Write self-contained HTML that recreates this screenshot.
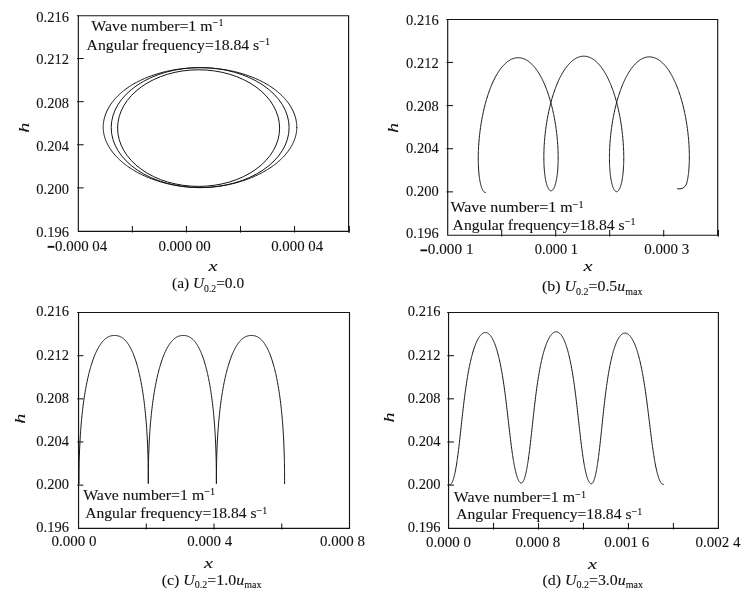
<!DOCTYPE html>
<html><head><meta charset="utf-8"><title>Particle trajectories</title>
<style>html,body{margin:0;padding:0;background:#fff;}svg{display:block;filter:grayscale(1);font-family:"Liberation Serif",serif;fill:#111;}text{stroke:#111;stroke-width:0.1px;}</style></head><body>
<svg width="747" height="598" viewBox="0 0 747 598">
<rect width="747" height="598" fill="#ffffff"/>
<path d="M78.35 231.8 V15.7 H348.6 V231.3 H77.85" fill="none" stroke="#151515" stroke-width="1.15" stroke-linejoin="miter"/>
<line x1="76.95" y1="15.7" x2="78.35" y2="15.7" stroke="#151515" stroke-width="1.0"/>
<line x1="132.4" y1="232.6" x2="132.4" y2="226" stroke="#151515" stroke-width="1.05"/>
<line x1="186.45" y1="232.6" x2="186.45" y2="226" stroke="#151515" stroke-width="1.05"/>
<line x1="240.5" y1="232.6" x2="240.5" y2="226" stroke="#151515" stroke-width="1.05"/>
<line x1="294.55" y1="232.6" x2="294.55" y2="226" stroke="#151515" stroke-width="1.05"/>
<line x1="77.15" y1="58.52" x2="83.65" y2="58.52" stroke="#151515" stroke-width="1.05"/>
<line x1="77.15" y1="101.64" x2="83.65" y2="101.64" stroke="#151515" stroke-width="1.05"/>
<line x1="77.15" y1="144.76" x2="83.65" y2="144.76" stroke="#151515" stroke-width="1.05"/>
<line x1="77.15" y1="187.88" x2="83.65" y2="187.88" stroke="#151515" stroke-width="1.05"/>
<line x1="349.15" y1="232.7" x2="349.15" y2="226" stroke="#151515" stroke-width="1.5"/>
<text x="68.9" y="21.73" font-size="15.6" text-anchor="end" textLength="32.6" lengthAdjust="spacingAndGlyphs">0.216</text>
<text x="68.9" y="64.33" font-size="15.6" text-anchor="end" textLength="32.6" lengthAdjust="spacingAndGlyphs">0.212</text>
<text x="68.9" y="108.03" font-size="15.6" text-anchor="end" textLength="32.6" lengthAdjust="spacingAndGlyphs">0.208</text>
<text x="68.9" y="151.33" font-size="15.6" text-anchor="end" textLength="32.6" lengthAdjust="spacingAndGlyphs">0.204</text>
<text x="68.9" y="193.83" font-size="15.6" text-anchor="end" textLength="32.6" lengthAdjust="spacingAndGlyphs">0.200</text>
<text x="68.9" y="236.93" font-size="15.6" text-anchor="end" textLength="32.6" lengthAdjust="spacingAndGlyphs">0.196</text>
<rect x="47.6" y="245.9" width="6.8" height="1.9" fill="#151515"/>
<text x="55" y="250.8" font-size="15.6" textLength="52.3" lengthAdjust="spacingAndGlyphs">0.000 04</text>
<text x="158.4" y="250.8" font-size="15.6" textLength="52.4" lengthAdjust="spacingAndGlyphs">0.000 00</text>
<text x="271.2" y="250.8" font-size="15.6" textLength="51.9" lengthAdjust="spacingAndGlyphs">0.000 04</text>
<text font-size="15.5" font-style="italic" text-anchor="middle" transform="translate(24.2 127.7) rotate(-90) scale(1.3 0.94)" y="5.2">h</text>
<text font-size="15.5" font-style="italic" text-anchor="middle" transform="translate(213 270.5) scale(1.32 1)">x</text>
<text x="172" y="288.4" font-size="15.6" textLength="72.1" lengthAdjust="spacingAndGlyphs">(a) <tspan font-style="italic">U</tspan><tspan font-size="9.8" dy="3.5">0.2</tspan><tspan dy="-3.5">=0.0</tspan></text>
<text x="91.3" y="30.5" font-size="15.6" textLength="132.2" lengthAdjust="spacingAndGlyphs">Wave number=1 m<tspan font-size="10" dy="-4.5" font-weight="bold">−</tspan><tspan font-size="10">1</tspan></text>
<text x="86.6" y="49.9" font-size="15.6" textLength="183.4" lengthAdjust="spacingAndGlyphs">Angular frequency=18.84 s<tspan font-size="10" dy="-4.5" font-weight="bold">−</tspan><tspan font-size="10">1</tspan></text>
<path d="M296.8 127.5 L296.78 128.41 L296.74 129.36 L296.66 130.33 L296.56 131.31 L296.42 132.29 L296.25 133.29 L296.05 134.29 L295.82 135.29 L295.57 136.29 L295.28 137.29 L294.96 138.3 L294.61 139.3 L294.23 140.31 L293.82 141.31 L293.38 142.31 L292.92 143.31 L292.42 144.31 L291.89 145.3 L291.34 146.29 L290.76 147.27 L290.15 148.25 L289.51 149.23 L288.84 150.2 L288.14 151.16 L287.42 152.12 L286.67 153.07 L285.89 154.01 L285.08 154.95 L284.25 155.88 L283.4 156.8 L282.51 157.72 L281.6 158.62 L280.67 159.52 L279.71 160.41 L278.72 161.28 L277.71 162.15 L276.68 163.01 L275.62 163.86 L274.54 164.69 L273.44 165.52 L272.31 166.33 L271.17 167.13 L270 167.92 L268.81 168.7 L267.59 169.47 L266.36 170.22 L265.11 170.96 L263.83 171.68 L262.54 172.4 L261.23 173.1 L259.9 173.78 L258.56 174.45 L257.19 175.11 L255.81 175.75 L254.41 176.38 L253 176.99 L251.57 177.58 L250.13 178.16 L248.67 178.73 L247.2 179.28 L245.71 179.81 L244.22 180.33 L242.71 180.83 L241.18 181.31 L239.65 181.78 L238.11 182.22 L236.56 182.66 L234.99 183.07 L233.42 183.47 L231.84 183.85 L230.26 184.21 L228.67 184.55 L227.07 184.88 L225.46 185.19 L223.86 185.48 L222.24 185.75 L220.63 186 L219.01 186.24 L217.39 186.46 L215.77 186.65 L214.16 186.83 L212.54 186.99 L210.93 187.14 L209.32 187.26 L207.72 187.36 L206.13 187.45 L204.55 187.51 L202.99 187.56 L201.46 187.59 L200 187.6 L198.54 187.59 L197.01 187.56 L195.45 187.51 L193.87 187.45 L192.28 187.36 L190.68 187.26 L189.07 187.14 L187.46 186.99 L185.84 186.83 L184.23 186.65 L182.61 186.46 L180.99 186.24 L179.37 186 L177.76 185.75 L176.14 185.48 L174.54 185.19 L172.93 184.88 L171.33 184.55 L169.74 184.21 L168.16 183.85 L166.58 183.47 L165.01 183.07 L163.44 182.66 L161.89 182.22 L160.35 181.78 L158.82 181.31 L157.29 180.83 L155.78 180.33 L154.29 179.81 L152.8 179.28 L151.33 178.73 L149.87 178.16 L148.43 177.58 L147 176.99 L145.59 176.38 L144.19 175.75 L142.81 175.11 L141.44 174.45 L140.1 173.78 L138.77 173.1 L137.46 172.4 L136.17 171.68 L134.89 170.96 L133.64 170.22 L132.41 169.47 L131.19 168.7 L130 167.92 L128.83 167.13 L127.69 166.33 L126.56 165.52 L125.46 164.69 L124.38 163.86 L123.32 163.01 L122.29 162.15 L121.28 161.28 L120.29 160.41 L119.33 159.52 L118.4 158.62 L117.49 157.72 L116.6 156.8 L115.75 155.88 L114.92 154.95 L114.11 154.01 L113.33 153.07 L112.58 152.12 L111.86 151.16 L111.16 150.2 L110.49 149.23 L109.85 148.25 L109.24 147.27 L108.66 146.29 L108.11 145.3 L107.58 144.31 L107.08 143.31 L106.62 142.31 L106.18 141.31 L105.77 140.31 L105.39 139.3 L105.04 138.3 L104.72 137.29 L104.43 136.29 L104.18 135.29 L103.95 134.29 L103.75 133.29 L103.58 132.29 L103.44 131.31 L103.34 130.33 L103.26 129.36 L103.22 128.41 L103.2 127.5 L103.21 126.46 L103.26 125.41 L103.33 124.37 L103.44 123.33 L103.57 122.29 L103.73 121.25 L103.92 120.21 L104.14 119.18 L104.39 118.15 L104.67 117.12 L104.98 116.09 L105.32 115.07 L105.68 114.05 L106.08 113.03 L106.5 112.02 L106.95 111.02 L107.43 110.02 L107.94 109.02 L108.47 108.03 L109.04 107.05 L109.63 106.07 L110.25 105.1 L110.9 104.13 L111.57 103.18 L112.27 102.23 L113 101.29 L113.75 100.35 L114.53 99.43 L115.34 98.51 L116.17 97.6 L117.03 96.7 L117.91 95.81 L118.82 94.93 L119.75 94.06 L120.71 93.2 L121.69 92.35 L122.69 91.51 L123.72 90.68 L124.77 89.87 L125.85 89.06 L126.94 88.27 L128.06 87.49 L129.2 86.72 L130.37 85.96 L131.55 85.22 L132.76 84.48 L133.98 83.77 L135.23 83.06 L136.49 82.37 L137.78 81.69 L139.08 81.03 L140.4 80.38 L141.74 79.74 L143.1 79.12 L144.48 78.51 L145.87 77.92 L147.28 77.35 L148.7 76.79 L150.14 76.24 L151.6 75.71 L153.07 75.2 L154.56 74.7 L156.05 74.22 L157.57 73.75 L159.09 73.3 L160.63 72.87 L162.18 72.45 L163.74 72.05 L165.31 71.67 L166.89 71.31 L168.49 70.96 L170.09 70.63 L171.7 70.31 L173.32 70.02 L174.95 69.74 L176.58 69.48 L178.22 69.23 L179.87 69.01 L181.53 68.8 L183.19 68.61 L184.86 68.44 L186.53 68.28 L188.2 68.15 L189.88 68.03 L191.56 67.93 L193.25 67.85 L194.93 67.78 L196.62 67.74 L198.31 67.71 L200 67.7 L201.69 67.71 L203.38 67.74 L205.07 67.78 L206.75 67.85 L208.44 67.93 L210.12 68.03 L211.8 68.15 L213.47 68.28 L215.14 68.44 L216.81 68.61 L218.47 68.8 L220.13 69.01 L221.78 69.23 L223.42 69.48 L225.05 69.74 L226.68 70.02 L228.3 70.31 L229.91 70.63 L231.51 70.96 L233.11 71.31 L234.69 71.67 L236.26 72.05 L237.82 72.45 L239.37 72.87 L240.91 73.3 L242.43 73.75 L243.95 74.22 L245.44 74.7 L246.93 75.2 L248.4 75.71 L249.86 76.24 L251.3 76.79 L252.72 77.35 L254.13 77.92 L255.52 78.51 L256.9 79.12 L258.26 79.74 L259.6 80.38 L260.92 81.03 L262.22 81.69 L263.51 82.37 L264.77 83.06 L266.02 83.77 L267.24 84.48 L268.45 85.22 L269.63 85.96 L270.8 86.72 L271.94 87.49 L273.06 88.27 L274.15 89.06 L275.23 89.87 L276.28 90.68 L277.31 91.51 L278.31 92.35 L279.29 93.2 L280.25 94.06 L281.18 94.93 L282.09 95.81 L282.97 96.7 L283.83 97.6 L284.66 98.51 L285.47 99.43 L286.25 100.35 L287 101.29 L287.73 102.23 L288.43 103.18 L289.1 104.13 L289.75 105.1 L290.37 106.07 L290.96 107.05 L291.53 108.03 L292.06 109.02 L292.57 110.02 L293.05 111.02 L293.5 112.02 L293.92 113.03 L294.32 114.05 L294.68 115.07 L295.02 116.09 L295.33 117.12 L295.61 118.15 L295.86 119.18 L296.08 120.21 L296.27 121.25 L296.43 122.29 L296.56 123.33 L296.67 124.37 L296.74 125.41 L296.79 126.46 L296.8 127.5" fill="none" stroke="#141414" stroke-width="1.0" stroke-linejoin="round" stroke-linecap="round"/>
<ellipse cx="200.15" cy="127.6" rx="88.95" ry="60" fill="none" stroke="#141414" stroke-width="1.0"/>
<ellipse cx="198.6" cy="128.1" rx="81" ry="58.3" fill="none" stroke="#141414" stroke-width="1.0"/>
<path d="M447.7 235.7 V19.5 H717.7 V235.2 H447.2" fill="none" stroke="#151515" stroke-width="1.15" stroke-linejoin="miter"/>
<line x1="446.3" y1="19.5" x2="447.7" y2="19.5" stroke="#151515" stroke-width="1.0"/>
<line x1="501.7" y1="236.5" x2="501.7" y2="229.9" stroke="#151515" stroke-width="1.05"/>
<line x1="555.7" y1="236.5" x2="555.7" y2="229.9" stroke="#151515" stroke-width="1.05"/>
<line x1="609.7" y1="236.5" x2="609.7" y2="229.9" stroke="#151515" stroke-width="1.05"/>
<line x1="663.7" y1="236.5" x2="663.7" y2="229.9" stroke="#151515" stroke-width="1.05"/>
<line x1="446.5" y1="62.44" x2="453" y2="62.44" stroke="#151515" stroke-width="1.05"/>
<line x1="446.5" y1="105.58" x2="453" y2="105.58" stroke="#151515" stroke-width="1.05"/>
<line x1="446.5" y1="148.72" x2="453" y2="148.72" stroke="#151515" stroke-width="1.05"/>
<line x1="446.5" y1="191.86" x2="453" y2="191.86" stroke="#151515" stroke-width="1.05"/>
<line x1="718.25" y1="236.6" x2="718.25" y2="229.9" stroke="#151515" stroke-width="1.5"/>
<text x="438.7" y="25.23" font-size="15.6" text-anchor="end" textLength="32.6" lengthAdjust="spacingAndGlyphs">0.216</text>
<text x="438.7" y="68.03" font-size="15.6" text-anchor="end" textLength="32.6" lengthAdjust="spacingAndGlyphs">0.212</text>
<text x="438.7" y="110.73" font-size="15.6" text-anchor="end" textLength="32.6" lengthAdjust="spacingAndGlyphs">0.208</text>
<text x="438.7" y="153.23" font-size="15.6" text-anchor="end" textLength="32.6" lengthAdjust="spacingAndGlyphs">0.204</text>
<text x="438.7" y="195.63" font-size="15.6" text-anchor="end" textLength="32.6" lengthAdjust="spacingAndGlyphs">0.200</text>
<text x="438.7" y="237.93" font-size="15.6" text-anchor="end" textLength="32.6" lengthAdjust="spacingAndGlyphs">0.196</text>
<rect x="420.4" y="249.4" width="6.8" height="1.9" fill="#151515"/>
<text x="427.8" y="254.3" font-size="15.6" textLength="45.7" lengthAdjust="spacingAndGlyphs">0.000 1</text>
<text x="534.7" y="254.3" font-size="15.6" textLength="43.3" lengthAdjust="spacingAndGlyphs">0.000 1</text>
<text x="644.2" y="254.3" font-size="15.6" textLength="45" lengthAdjust="spacingAndGlyphs">0.000 3</text>
<text font-size="15.5" font-style="italic" text-anchor="middle" transform="translate(393.2 127.9) rotate(-90) scale(1.3 0.94)" y="5.2">h</text>
<text font-size="15.5" font-style="italic" text-anchor="middle" transform="translate(588 270.7) scale(1.32 1)">x</text>
<text x="542" y="291" font-size="15.6" textLength="100.5" lengthAdjust="spacingAndGlyphs">(b) <tspan font-style="italic">U</tspan><tspan font-size="9.8" dy="3.5">0.2</tspan><tspan dy="-3.5">=0.5</tspan><tspan font-style="italic">u</tspan><tspan font-size="9.8" dy="3.5">max</tspan></text>
<text x="450.4" y="212.2" font-size="15.6" textLength="133.2" lengthAdjust="spacingAndGlyphs">Wave number=1 m<tspan font-size="10" dy="-4.5" font-weight="bold">−</tspan><tspan font-size="10">1</tspan></text>
<text x="452.6" y="229.7" font-size="15.6" textLength="182.8" lengthAdjust="spacingAndGlyphs">Angular frequency=18.84 s<tspan font-size="10" dy="-4.5" font-weight="bold">−</tspan><tspan font-size="10">1</tspan></text>
<path d="M485.4 192.5 L485.19 192.48 L484.97 192.43 L484.76 192.36 L484.55 192.25 L484.34 192.12 L484.13 191.96 L483.92 191.78 L483.71 191.56 L483.51 191.32 L483.3 191.05 L483.1 190.75 L482.9 190.43 L482.7 190.08 L482.5 189.7 L482.31 189.29 L482.11 188.86 L481.93 188.4 L481.74 187.92 L481.56 187.4 L481.38 186.87 L481.2 186.31 L481.03 185.72 L480.86 185.1 L480.69 184.47 L480.53 183.8 L480.38 183.12 L480.22 182.41 L480.08 181.67 L479.93 180.91 L479.8 180.13 L479.66 179.33 L479.53 178.5 L479.41 177.65 L479.29 176.78 L479.18 175.89 L479.08 174.97 L478.98 174.04 L478.88 173.08 L478.79 172.11 L478.71 171.12 L478.64 170.1 L478.57 169.07 L478.5 168.02 L478.45 166.95 L478.4 165.87 L478.36 164.77 L478.32 163.65 L478.29 162.51 L478.27 161.36 L478.26 160.2 L478.25 159.02 L478.25 157.82 L478.26 156.62 L478.28 155.4 L478.3 154.16 L478.33 152.92 L478.37 151.66 L478.42 150.4 L478.48 149.12 L478.54 147.83 L478.61 146.53 L478.69 145.23 L478.78 143.91 L478.88 142.59 L478.98 141.26 L479.1 139.93 L479.22 138.58 L479.35 137.24 L479.49 135.88 L479.63 134.53 L479.79 133.16 L479.96 131.8 L480.13 130.43 L480.31 129.06 L480.5 127.69 L480.7 126.32 L480.91 124.95 L481.13 123.57 L481.35 122.2 L481.59 120.83 L481.83 119.46 L482.08 118.1 L482.34 116.73 L482.61 115.37 L482.89 114.02 L483.17 112.67 L483.47 111.32 L483.77 109.98 L484.08 108.65 L484.4 107.32 L484.73 106 L485.07 104.69 L485.41 103.38 L485.76 102.09 L486.12 100.8 L486.49 99.53 L486.87 98.27 L487.26 97.01 L487.65 95.77 L488.05 94.54 L488.46 93.33 L488.88 92.12 L489.3 90.93 L489.73 89.76 L490.17 88.6 L490.62 87.45 L491.07 86.32 L491.53 85.21 L492 84.11 L492.47 83.03 L492.95 81.97 L493.44 80.92 L493.94 79.89 L494.44 78.89 L494.95 77.9 L495.46 76.93 L495.98 75.98 L496.5 75.05 L497.04 74.14 L497.57 73.26 L498.11 72.39 L498.66 71.55 L499.22 70.73 L499.77 69.93 L500.34 69.15 L500.91 68.4 L501.48 67.67 L502.06 66.96 L502.64 66.28 L503.23 65.62 L503.82 64.99 L504.41 64.38 L505.01 63.8 L505.61 63.24 L506.21 62.71 L506.82 62.21 L507.43 61.73 L508.05 61.27 L508.67 60.85 L509.29 60.45 L509.91 60.07 L510.53 59.72 L511.16 59.4 L511.79 59.11 L512.42 58.85 L513.05 58.61 L513.68 58.4 L514.32 58.22 L514.96 58.06 L515.59 57.93 L516.23 57.83 L516.87 57.76 L517.51 57.72 L518.14 57.7 L518.78 57.71 L519.42 57.75 L520.06 57.82 L520.7 57.91 L521.33 58.04 L521.97 58.19 L522.6 58.36 L523.24 58.57 L523.87 58.8 L524.5 59.06 L525.13 59.35 L525.76 59.66 L526.38 60.01 L527.01 60.37 L527.63 60.77 L528.24 61.19 L528.86 61.64 L529.47 62.11 L530.08 62.61 L530.69 63.14 L531.29 63.69 L531.89 64.27 L532.48 64.87 L533.07 65.5 L533.66 66.15 L534.24 66.82 L534.82 67.52 L535.39 68.24 L535.96 68.99 L536.53 69.76 L537.09 70.55 L537.64 71.37 L538.19 72.2 L538.73 73.06 L539.27 73.94 L539.8 74.84 L540.33 75.76 L540.85 76.7 L541.37 77.66 L541.87 78.64 L542.38 79.64 L542.87 80.66 L543.36 81.7 L543.84 82.75 L544.32 83.82 L544.79 84.91 L545.25 86.02 L545.7 87.14 L546.15 88.27 L546.59 89.42 L547.02 90.59 L547.45 91.77 L547.87 92.96 L548.28 94.17 L548.68 95.38 L549.07 96.61 L549.46 97.86 L549.84 99.11 L550.21 100.37 L550.57 101.65 L550.93 102.93 L551.27 104.22 L551.61 105.52 L551.94 106.83 L552.26 108.14 L552.58 109.46 L552.88 110.79 L553.18 112.13 L553.46 113.46 L553.74 114.81 L554.01 116.15 L554.27 117.5 L554.53 118.86 L554.77 120.21 L555.01 121.57 L555.23 122.93 L555.45 124.28 L555.66 125.64 L555.86 127 L556.06 128.36 L556.24 129.71 L556.41 131.06 L556.58 132.41 L556.74 133.76 L556.89 135.1 L557.03 136.44 L557.16 137.77 L557.28 139.1 L557.4 140.42 L557.51 141.73 L557.6 143.04 L557.69 144.34 L557.78 145.63 L557.85 146.91 L557.91 148.18 L557.97 149.45 L558.02 150.7 L558.06 151.94 L558.09 153.17 L558.12 154.38 L558.14 155.59 L558.15 156.78 L558.15 157.96 L558.14 159.12 L558.13 160.27 L558.11 161.4 L558.09 162.52 L558.05 163.63 L558.01 164.71 L557.96 165.78 L557.91 166.83 L557.85 167.87 L557.78 168.88 L557.7 169.88 L557.62 170.86 L557.53 171.82 L557.44 172.76 L557.34 173.68 L557.24 174.58 L557.13 175.46 L557.01 176.31 L556.89 177.15 L556.76 177.96 L556.63 178.75 L556.49 179.52 L556.35 180.26 L556.2 180.98 L556.05 181.68 L555.89 182.35 L555.73 183 L555.57 183.63 L555.4 184.23 L555.23 184.81 L555.05 185.36 L554.88 185.88 L554.69 186.38 L554.51 186.85 L554.32 187.3 L554.13 187.72 L553.93 188.12 L553.74 188.48 L553.54 188.83 L553.34 189.14 L553.13 189.43 L552.93 189.69 L552.72 189.92 L552.52 190.13 L552.31 190.31 L552.1 190.46 L551.89 190.58 L551.67 190.68 L551.46 190.75 L551.25 190.79 L551.04 190.8 L550.82 190.79 L550.61 190.76 L550.4 190.7 L550.19 190.61 L549.98 190.49 L549.77 190.34 L549.56 190.17 L549.35 189.97 L549.14 189.74 L548.94 189.48 L548.73 189.2 L548.53 188.89 L548.33 188.55 L548.13 188.18 L547.94 187.79 L547.75 187.37 L547.56 186.93 L547.37 186.45 L547.19 185.96 L547.01 185.43 L546.83 184.88 L546.66 184.31 L546.49 183.71 L546.32 183.08 L546.16 182.43 L546 181.75 L545.85 181.06 L545.7 180.33 L545.56 179.59 L545.42 178.82 L545.29 178.02 L545.16 177.21 L545.03 176.37 L544.91 175.51 L544.8 174.63 L544.69 173.72 L544.59 172.8 L544.5 171.85 L544.41 170.89 L544.33 169.9 L544.25 168.9 L544.18 167.88 L544.11 166.84 L544.06 165.78 L544.01 164.7 L543.96 163.61 L543.93 162.5 L543.9 161.37 L543.87 160.23 L543.86 159.07 L543.85 157.9 L543.85 156.71 L543.86 155.51 L543.87 154.3 L543.9 153.07 L543.93 151.83 L543.96 150.58 L544.01 149.32 L544.06 148.04 L544.13 146.76 L544.2 145.47 L544.28 144.17 L544.36 142.86 L544.46 141.54 L544.56 140.21 L544.67 138.88 L544.8 137.54 L544.92 136.19 L545.06 134.84 L545.21 133.49 L545.36 132.13 L545.53 130.76 L545.7 129.4 L545.88 128.03 L546.07 126.66 L546.27 125.28 L546.47 123.91 L546.69 122.54 L546.91 121.17 L547.14 119.8 L547.39 118.42 L547.64 117.06 L547.89 115.69 L548.16 114.33 L548.44 112.97 L548.72 111.62 L549.01 110.27 L549.32 108.93 L549.63 107.59 L549.94 106.26 L550.27 104.93 L550.61 103.62 L550.95 102.31 L551.3 101.01 L551.66 99.72 L552.03 98.44 L552.41 97.17 L552.79 95.91 L553.18 94.67 L553.58 93.43 L553.99 92.21 L554.4 91 L554.83 89.81 L555.26 88.62 L555.69 87.46 L556.14 86.3 L556.59 85.17 L557.05 84.05 L557.52 82.94 L557.99 81.85 L558.47 80.78 L558.96 79.73 L559.45 78.7 L559.95 77.68 L560.46 76.69 L560.97 75.71 L561.49 74.75 L562.01 73.82 L562.54 72.9 L563.08 72 L563.62 71.13 L564.17 70.28 L564.72 69.45 L565.28 68.64 L565.84 67.86 L566.41 67.1 L566.98 66.36 L567.56 65.65 L568.14 64.96 L568.72 64.29 L569.31 63.65 L569.91 63.03 L570.5 62.44 L571.1 61.88 L571.71 61.34 L572.32 60.82 L572.93 60.34 L573.54 59.88 L574.16 59.44 L574.78 59.03 L575.4 58.65 L576.02 58.3 L576.65 57.97 L577.28 57.67 L577.91 57.4 L578.54 57.16 L579.17 56.94 L579.81 56.75 L580.44 56.59 L581.08 56.45 L581.72 56.35 L582.36 56.27 L582.99 56.22 L583.63 56.2 L584.27 56.21 L584.91 56.24 L585.55 56.31 L586.19 56.4 L586.82 56.51 L587.46 56.66 L588.09 56.84 L588.73 57.04 L589.36 57.27 L589.99 57.53 L590.62 57.81 L591.25 58.13 L591.87 58.47 L592.5 58.83 L593.12 59.23 L593.74 59.65 L594.35 60.1 L594.96 60.57 L595.57 61.07 L596.18 61.6 L596.78 62.15 L597.38 62.73 L597.98 63.33 L598.57 63.96 L599.16 64.61 L599.74 65.29 L600.32 65.99 L600.89 66.72 L601.46 67.47 L602.03 68.24 L602.59 69.04 L603.14 69.86 L603.69 70.7 L604.24 71.57 L604.78 72.45 L605.31 73.36 L605.84 74.29 L606.36 75.24 L606.88 76.21 L607.39 77.19 L607.89 78.2 L608.39 79.23 L608.88 80.28 L609.36 81.34 L609.84 82.42 L610.31 83.52 L610.77 84.64 L611.23 85.77 L611.67 86.92 L612.12 88.08 L612.55 89.26 L612.98 90.45 L613.4 91.66 L613.81 92.88 L614.21 94.11 L614.61 95.35 L614.99 96.61 L615.37 97.88 L615.75 99.16 L616.11 100.45 L616.47 101.75 L616.81 103.06 L617.15 104.37 L617.49 105.7 L617.81 107.03 L618.12 108.37 L618.43 109.72 L618.73 111.07 L619.01 112.43 L619.29 113.79 L619.57 115.16 L619.83 116.53 L620.08 117.9 L620.33 119.28 L620.57 120.66 L620.8 122.04 L621.02 123.42 L621.23 124.8 L621.43 126.18 L621.62 127.56 L621.81 128.93 L621.98 130.31 L622.15 131.68 L622.31 133.05 L622.46 134.42 L622.6 135.78 L622.74 137.14 L622.86 138.49 L622.98 139.83 L623.09 141.17 L623.19 142.5 L623.28 143.83 L623.36 145.14 L623.44 146.45 L623.5 147.75 L623.56 149.04 L623.61 150.31 L623.66 151.58 L623.69 152.83 L623.72 154.08 L623.74 155.31 L623.75 156.52 L623.75 157.73 L623.75 158.92 L623.74 160.09 L623.72 161.25 L623.69 162.4 L623.66 163.53 L623.62 164.64 L623.57 165.74 L623.52 166.81 L623.46 167.87 L623.39 168.92 L623.32 169.94 L623.24 170.94 L623.15 171.93 L623.06 172.89 L622.96 173.84 L622.86 174.76 L622.75 175.67 L622.63 176.55 L622.51 177.41 L622.38 178.24 L622.25 179.06 L622.12 179.85 L621.97 180.62 L621.83 181.36 L621.68 182.08 L621.52 182.78 L621.36 183.45 L621.2 184.1 L621.03 184.73 L620.86 185.32 L620.69 185.9 L620.51 186.44 L620.32 186.96 L620.14 187.46 L619.95 187.92 L619.76 188.37 L619.57 188.78 L619.37 189.17 L619.17 189.53 L618.97 189.86 L618.77 190.17 L618.57 190.45 L618.36 190.7 L618.15 190.92 L617.94 191.11 L617.73 191.28 L617.52 191.42 L617.31 191.53 L617.1 191.62 L616.89 191.67 L616.67 191.7 L616.46 191.69 L616.25 191.65 L616.04 191.59 L615.82 191.5 L615.61 191.37 L615.4 191.23 L615.19 191.05 L614.98 190.84 L614.78 190.61 L614.57 190.35 L614.37 190.07 L614.17 189.75 L613.97 189.41 L613.77 189.04 L613.57 188.65 L613.38 188.22 L613.19 187.77 L613 187.3 L612.82 186.8 L612.64 186.27 L612.46 185.72 L612.29 185.14 L612.12 184.54 L611.95 183.91 L611.79 183.25 L611.63 182.57 L611.48 181.87 L611.33 181.15 L611.18 180.4 L611.04 179.62 L610.91 178.83 L610.78 178.01 L610.65 177.17 L610.53 176.3 L610.42 175.42 L610.31 174.51 L610.21 173.59 L610.11 172.64 L610.02 171.67 L609.94 170.69 L609.86 169.68 L609.79 168.66 L609.72 167.61 L609.67 166.55 L609.61 165.47 L609.57 164.38 L609.53 163.26 L609.5 162.14 L609.48 160.99 L609.46 159.83 L609.45 158.66 L609.45 157.47 L609.46 156.27 L609.47 155.05 L609.49 153.82 L609.52 152.58 L609.56 151.33 L609.6 150.07 L609.65 148.79 L609.72 147.51 L609.78 146.21 L609.86 144.91 L609.95 143.6 L610.04 142.28 L610.14 140.95 L610.25 139.62 L610.37 138.28 L610.5 136.93 L610.64 135.58 L610.78 134.23 L610.94 132.87 L611.1 131.5 L611.27 130.14 L611.45 128.77 L611.63 127.4 L611.83 126.02 L612.04 124.65 L612.25 123.28 L612.47 121.91 L612.7 120.54 L612.94 119.17 L613.19 117.8 L613.45 116.43 L613.71 115.07 L613.99 113.71 L614.27 112.36 L614.56 111.01 L614.86 109.67 L615.17 108.33 L615.49 107 L615.81 105.68 L616.15 104.36 L616.49 103.06 L616.84 101.76 L617.2 100.47 L617.56 99.19 L617.94 97.92 L618.32 96.67 L618.71 95.42 L619.11 94.19 L619.52 92.97 L619.93 91.76 L620.35 90.56 L620.78 89.38 L621.22 88.22 L621.66 87.06 L622.11 85.93 L622.57 84.81 L623.03 83.7 L623.51 82.62 L623.99 81.55 L624.47 80.5 L624.96 79.46 L625.46 78.45 L625.97 77.45 L626.48 76.48 L627 75.52 L627.52 74.58 L628.05 73.67 L628.58 72.77 L629.12 71.9 L629.67 71.05 L630.22 70.22 L630.78 69.41 L631.34 68.63 L631.91 67.86 L632.48 67.13 L633.05 66.41 L633.64 65.72 L634.22 65.06 L634.81 64.41 L635.4 63.8 L636 63.21 L636.6 62.64 L637.2 62.1 L637.81 61.58 L638.42 61.09 L639.03 60.63 L639.65 60.19 L640.27 59.78 L640.89 59.4 L641.51 59.04 L642.14 58.71 L642.77 58.41 L643.4 58.14 L644.03 57.89 L644.66 57.67 L645.3 57.48 L645.93 57.31 L646.57 57.17 L647.21 57.06 L647.84 56.98 L648.48 56.93 L649.12 56.9 L649.76 56.9 L650.4 56.93 L651.04 56.99 L651.67 57.08 L652.31 57.19 L652.95 57.33 L653.58 57.5 L654.22 57.7 L654.85 57.92 L655.48 58.17 L656.11 58.45 L656.74 58.75 L657.36 59.09 L657.99 59.45 L658.61 59.83 L659.23 60.24 L659.84 60.68 L660.46 61.15 L661.07 61.64 L661.67 62.16 L662.28 62.7 L662.88 63.27 L663.47 63.86 L664.07 64.48 L664.65 65.12 L665.24 65.79 L665.82 66.48 L666.39 67.2 L666.96 67.94 L667.53 68.7 L668.09 69.48 L668.65 70.29 L669.2 71.12 L669.74 71.97 L670.28 72.84 L670.82 73.74 L671.35 74.65 L671.87 75.59 L672.39 76.54 L672.9 77.52 L673.4 78.51 L673.9 79.53 L674.39 80.56 L674.88 81.61 L675.35 82.67 L675.82 83.76 L676.29 84.86 L676.75 85.97 L677.2 87.1 L677.64 88.25 L678.07 89.41 L678.5 90.59 L678.92 91.78 L679.34 92.98 L679.74 94.2 L680.14 95.42 L680.53 96.66 L680.91 97.91 L681.28 99.17 L681.65 100.45 L682.01 101.73 L682.35 103.02 L682.7 104.32 L683.03 105.62 L683.35 106.94 L683.67 108.26 L683.98 109.58 L684.27 110.92 L684.56 112.26 L684.85 113.6 L685.12 114.95 L685.38 116.3 L685.64 117.65 L685.89 119.01 L686.13 120.37 L686.36 121.72 L686.58 123.08 L686.79 124.44 L686.99 125.8 L687.19 127.16 L687.38 128.52 L687.55 129.88 L687.72 131.23 L687.88 132.58 L688.04 133.92 L688.18 135.27 L688.32 136.6 L688.44 137.93 L688.56 139.26 L688.67 140.58 L688.77 141.89 L688.86 143.19 L688.95 144.49 L689.02 145.77 L689.09 147.05 L689.15 148.32 L689.2 149.57 L689.25 150.82 L689.28 152.06 L689.31 153.28 L689.33 154.49 L689.35 155.69 L689.35 156.87 L689.35 158.04 L689.34 159.2 L689.32 160.34 L689.3 161.47 L689.26 162.58 L689.23 163.67 L689.18 164.75 L689.13 165.81 L689.07 166.85 L689 167.88 L688.93 168.88 L688.85 169.87 L688.77 170.84 L688.67 171.79 L688.58 172.71 L688.47 173.62 L688.36 174.51 L688.25 175.37 L688.13 176.22 L688.01 177.04 L687.87 177.84 L687.74 178.62 L687.6 179.37 L687.45 180.1 L687.3 180.81 L687.15 181.49 L686.99 182.15 C685.99 186.75 682.59 189.75 677.6 188.8" fill="none" stroke="#141414" stroke-width="1.0" stroke-linejoin="round" stroke-linecap="round"/>
<path d="M78.55 528.8 V312.5 H349.5 V528.3 H78.05" fill="none" stroke="#151515" stroke-width="1.15" stroke-linejoin="miter"/>
<line x1="77.15" y1="312.5" x2="78.55" y2="312.5" stroke="#151515" stroke-width="1.0"/>
<line x1="146.29" y1="529.6" x2="146.29" y2="523.5" stroke="#151515" stroke-width="1.05"/>
<line x1="214.02" y1="529.6" x2="214.02" y2="523.5" stroke="#151515" stroke-width="1.05"/>
<line x1="281.76" y1="529.6" x2="281.76" y2="523.5" stroke="#151515" stroke-width="1.05"/>
<line x1="77.35" y1="355.66" x2="83.35" y2="355.66" stroke="#151515" stroke-width="1.05"/>
<line x1="77.35" y1="398.82" x2="83.35" y2="398.82" stroke="#151515" stroke-width="1.05"/>
<line x1="77.35" y1="441.98" x2="83.35" y2="441.98" stroke="#151515" stroke-width="1.05"/>
<line x1="77.35" y1="485.14" x2="83.35" y2="485.14" stroke="#151515" stroke-width="1.05"/>
<text x="68.9" y="316.23" font-size="15.6" text-anchor="end" textLength="32.6" lengthAdjust="spacingAndGlyphs">0.216</text>
<text x="68.9" y="359.83" font-size="15.6" text-anchor="end" textLength="32.6" lengthAdjust="spacingAndGlyphs">0.212</text>
<text x="68.9" y="403.03" font-size="15.6" text-anchor="end" textLength="32.6" lengthAdjust="spacingAndGlyphs">0.208</text>
<text x="68.9" y="446.33" font-size="15.6" text-anchor="end" textLength="32.6" lengthAdjust="spacingAndGlyphs">0.204</text>
<text x="68.9" y="489.03" font-size="15.6" text-anchor="end" textLength="32.6" lengthAdjust="spacingAndGlyphs">0.200</text>
<text x="68.9" y="532.43" font-size="15.6" text-anchor="end" textLength="32.6" lengthAdjust="spacingAndGlyphs">0.196</text>
<text x="51.6" y="546.2" font-size="15.6" textLength="44.9" lengthAdjust="spacingAndGlyphs">0.000 0</text>
<text x="187.3" y="546.2" font-size="15.6" textLength="44.8" lengthAdjust="spacingAndGlyphs">0.000 4</text>
<text x="320.1" y="546.2" font-size="15.6" textLength="44.8" lengthAdjust="spacingAndGlyphs">0.000 8</text>
<text font-size="15.5" font-style="italic" text-anchor="middle" transform="translate(20.6 418.7) rotate(-90) scale(1.3 0.94)" y="5.2">h</text>
<text font-size="15.5" font-style="italic" text-anchor="middle" transform="translate(208.6 567.5) scale(1.32 1)">x</text>
<text x="161.7" y="584.6" font-size="15.6" textLength="99.7" lengthAdjust="spacingAndGlyphs">(c) <tspan font-style="italic">U</tspan><tspan font-size="9.8" dy="3.5">0.2</tspan><tspan dy="-3.5">=1.0</tspan><tspan font-style="italic">u</tspan><tspan font-size="9.8" dy="3.5">max</tspan></text>
<text x="83.2" y="499.9" font-size="15.6" textLength="131.9" lengthAdjust="spacingAndGlyphs">Wave number=1 m<tspan font-size="10" dy="-4.5" font-weight="bold">−</tspan><tspan font-size="10">1</tspan></text>
<text x="85.2" y="518.4" font-size="15.6" textLength="182" lengthAdjust="spacingAndGlyphs">Angular frequency=18.84 s<tspan font-size="10" dy="-4.5" font-weight="bold">−</tspan><tspan font-size="10">1</tspan></text>
<path d="M79 483.6 L79 480.46 L79.01 477.79 L79.02 475.27 L79.04 472.84 L79.07 470.49 L79.1 468.18 L79.14 465.92 L79.18 463.7 L79.22 461.52 L79.28 459.36 L79.34 457.23 L79.4 455.13 L79.47 453.05 L79.54 450.99 L79.62 448.95 L79.71 446.94 L79.8 444.94 L79.9 442.96 L80 441 L80.11 439.06 L80.22 437.13 L80.34 435.22 L80.46 433.33 L80.59 431.46 L80.72 429.6 L80.86 427.75 L81.01 425.93 L81.16 424.12 L81.31 422.32 L81.47 420.54 L81.64 418.78 L81.81 417.03 L81.99 415.3 L82.17 413.58 L82.35 411.88 L82.55 410.2 L82.74 408.53 L82.94 406.88 L83.15 405.24 L83.36 403.62 L83.58 402.02 L83.8 400.43 L84.03 398.86 L84.26 397.31 L84.49 395.77 L84.74 394.25 L84.98 392.74 L85.23 391.25 L85.49 389.78 L85.75 388.33 L86.01 386.89 L86.28 385.48 L86.56 384.08 L86.83 382.69 L87.12 381.33 L87.41 379.98 L87.7 378.65 L87.99 377.34 L88.3 376.04 L88.6 374.77 L88.91 373.51 L89.22 372.27 L89.54 371.05 L89.87 369.85 L90.19 368.67 L90.52 367.5 L90.86 366.36 L91.2 365.23 L91.54 364.13 L91.89 363.04 L92.24 361.98 L92.59 360.93 L92.95 359.9 L93.32 358.9 L93.68 357.91 L94.05 356.94 L94.43 355.99 L94.81 355.07 L95.19 354.16 L95.58 353.28 L95.97 352.41 L96.36 351.57 L96.76 350.74 L97.16 349.94 L97.56 349.16 L97.97 348.4 L98.38 347.66 L98.79 346.94 L99.21 346.24 L99.63 345.56 L100.06 344.91 L100.49 344.28 L100.92 343.67 L101.36 343.08 L101.8 342.51 L102.24 341.96 L102.69 341.44 L103.14 340.93 L103.59 340.45 L104.05 339.99 L104.51 339.56 L104.97 339.14 L105.44 338.75 L105.92 338.38 L106.39 338.03 L106.88 337.71 L107.36 337.4 L107.86 337.12 L108.35 336.86 L108.85 336.63 L109.36 336.41 L109.88 336.22 L110.4 336.05 L110.93 335.91 L111.47 335.78 L112.03 335.68 L112.6 335.6 L113.19 335.55 L113.82 335.51 L114.55 335.5 L115.28 335.51 L115.91 335.55 L116.5 335.6 L117.06 335.68 L117.61 335.78 L118.15 335.91 L118.67 336.05 L119.19 336.22 L119.7 336.41 L120.2 336.63 L120.69 336.86 L121.18 337.12 L121.66 337.4 L122.14 337.71 L122.61 338.03 L123.07 338.38 L123.53 338.75 L123.99 339.14 L124.44 339.56 L124.89 339.99 L125.33 340.45 L125.77 340.93 L126.21 341.44 L126.64 341.96 L127.07 342.51 L127.49 343.08 L127.91 343.67 L128.32 344.28 L128.73 344.91 L129.14 345.56 L129.54 346.24 L129.94 346.94 L130.34 347.66 L130.73 348.4 L131.12 349.16 L131.5 349.94 L131.88 350.74 L132.26 351.57 L132.63 352.41 L133 353.28 L133.36 354.16 L133.72 355.07 L134.08 355.99 L134.43 356.94 L134.78 357.91 L135.13 358.9 L135.47 359.9 L135.81 360.93 L136.14 361.98 L136.47 363.04 L136.79 364.13 L137.11 365.23 L137.43 366.36 L137.74 367.5 L138.05 368.67 L138.35 369.85 L138.65 371.05 L138.95 372.27 L139.24 373.51 L139.53 374.77 L139.81 376.04 L140.09 377.34 L140.36 378.65 L140.63 379.98 L140.9 381.33 L141.16 382.69 L141.42 384.08 L141.67 385.48 L141.92 386.89 L142.16 388.33 L142.4 389.78 L142.63 391.25 L142.86 392.74 L143.09 394.25 L143.31 395.77 L143.53 397.31 L143.74 398.86 L143.94 400.43 L144.15 402.02 L144.34 403.62 L144.54 405.24 L144.73 406.88 L144.91 408.53 L145.09 410.2 L145.26 411.88 L145.43 413.58 L145.6 415.3 L145.76 417.03 L145.91 418.78 L146.06 420.54 L146.21 422.32 L146.35 424.12 L146.49 425.93 L146.62 427.75 L146.74 429.6 L146.87 431.46 L146.98 433.33 L147.09 435.22 L147.2 437.13 L147.3 439.06 L147.4 441 L147.49 442.96 L147.58 444.94 L147.66 446.94 L147.74 448.95 L147.81 450.99 L147.88 453.05 L147.94 455.13 L148 457.23 L148.05 459.36 L148.1 461.52 L148.14 463.7 L148.18 465.92 L148.21 468.18 L148.24 470.49 L148.26 472.84 L148.28 475.27 L148.29 477.79 L148.3 480.46 L148.3 483.6 L148.3 483.6 L148.3 480.46 L148.31 477.79 L148.32 475.27 L148.34 472.84 L148.37 470.49 L148.4 468.18 L148.43 465.92 L148.47 463.7 L148.52 461.52 L148.57 459.36 L148.63 457.23 L148.69 455.13 L148.76 453.05 L148.83 450.99 L148.91 448.95 L149 446.94 L149.09 444.94 L149.18 442.96 L149.28 441 L149.39 439.06 L149.5 437.13 L149.61 435.22 L149.74 433.33 L149.86 431.46 L149.99 429.6 L150.13 427.75 L150.27 425.93 L150.42 424.12 L150.57 422.32 L150.73 420.54 L150.9 418.78 L151.06 417.03 L151.24 415.3 L151.41 413.58 L151.6 411.88 L151.79 410.2 L151.98 408.53 L152.18 406.88 L152.38 405.24 L152.59 403.62 L152.8 402.02 L153.02 400.43 L153.24 398.86 L153.47 397.31 L153.7 395.77 L153.94 394.25 L154.18 392.74 L154.43 391.25 L154.68 389.78 L154.94 388.33 L155.2 386.89 L155.46 385.48 L155.73 384.08 L156.01 382.69 L156.28 381.33 L156.57 379.98 L156.85 378.65 L157.15 377.34 L157.44 376.04 L157.74 374.77 L158.05 373.51 L158.36 372.27 L158.67 371.05 L158.99 369.85 L159.31 368.67 L159.63 367.5 L159.96 366.36 L160.3 365.23 L160.63 364.13 L160.97 363.04 L161.32 361.98 L161.67 360.93 L162.02 359.9 L162.38 358.9 L162.74 357.91 L163.1 356.94 L163.47 355.99 L163.84 355.07 L164.22 354.16 L164.6 353.28 L164.98 352.41 L165.37 351.57 L165.76 350.74 L166.15 349.94 L166.55 349.16 L166.95 348.4 L167.36 347.66 L167.76 346.94 L168.17 346.24 L168.59 345.56 L169.01 344.91 L169.43 344.28 L169.85 343.67 L170.28 343.08 L170.71 342.51 L171.15 341.96 L171.59 341.44 L172.03 340.93 L172.48 340.45 L172.93 339.99 L173.38 339.56 L173.84 339.14 L174.3 338.75 L174.77 338.38 L175.24 338.03 L175.71 337.71 L176.19 337.4 L176.67 337.12 L177.16 336.86 L177.65 336.63 L178.15 336.41 L178.66 336.22 L179.17 336.05 L179.7 335.91 L180.23 335.78 L180.77 335.68 L181.33 335.6 L181.91 335.55 L182.53 335.51 L183.25 335.5 L183.97 335.51 L184.58 335.55 L185.16 335.6 L185.72 335.68 L186.26 335.78 L186.78 335.91 L187.3 336.05 L187.81 336.22 L188.31 336.41 L188.8 336.63 L189.28 336.86 L189.76 337.12 L190.24 337.4 L190.7 337.71 L191.17 338.03 L191.62 338.38 L192.08 338.75 L192.53 339.14 L192.97 339.56 L193.41 339.99 L193.84 340.45 L194.28 340.93 L194.7 341.44 L195.13 341.96 L195.55 342.51 L195.96 343.08 L196.37 343.67 L196.78 344.28 L197.18 344.91 L197.58 345.56 L197.98 346.24 L198.37 346.94 L198.76 347.66 L199.15 348.4 L199.53 349.16 L199.9 349.94 L200.28 350.74 L200.65 351.57 L201.01 352.41 L201.38 353.28 L201.73 354.16 L202.09 355.07 L202.44 355.99 L202.78 356.94 L203.13 357.91 L203.47 358.9 L203.8 359.9 L204.13 360.93 L204.46 361.98 L204.78 363.04 L205.1 364.13 L205.41 365.23 L205.73 366.36 L206.03 367.5 L206.33 368.67 L206.63 369.85 L206.93 371.05 L207.22 372.27 L207.5 373.51 L207.79 374.77 L208.06 376.04 L208.34 377.34 L208.61 378.65 L208.87 379.98 L209.13 381.33 L209.39 382.69 L209.64 384.08 L209.89 385.48 L210.13 386.89 L210.37 388.33 L210.61 389.78 L210.84 391.25 L211.06 392.74 L211.28 394.25 L211.5 395.77 L211.71 397.31 L211.92 398.86 L212.12 400.43 L212.32 402.02 L212.52 403.62 L212.71 405.24 L212.89 406.88 L213.07 408.53 L213.25 410.2 L213.42 411.88 L213.58 413.58 L213.75 415.3 L213.9 417.03 L214.06 418.78 L214.2 420.54 L214.35 422.32 L214.49 424.12 L214.62 425.93 L214.75 427.75 L214.87 429.6 L214.99 431.46 L215.11 433.33 L215.22 435.22 L215.32 437.13 L215.42 439.06 L215.52 441 L215.61 442.96 L215.69 444.94 L215.77 446.94 L215.85 448.95 L215.92 450.99 L215.99 453.05 L216.05 455.13 L216.1 457.23 L216.15 459.36 L216.2 461.52 L216.24 463.7 L216.28 465.92 L216.31 468.18 L216.34 470.49 L216.36 472.84 L216.38 475.27 L216.39 477.79 L216.4 480.46 L216.4 483.6 L216.4 483.6 L216.4 480.46 L216.41 477.79 L216.42 475.27 L216.44 472.84 L216.47 470.49 L216.5 468.18 L216.53 465.92 L216.57 463.7 L216.62 461.52 L216.67 459.36 L216.73 457.23 L216.79 455.13 L216.86 453.05 L216.93 450.99 L217.01 448.95 L217.1 446.94 L217.19 444.94 L217.28 442.96 L217.38 441 L217.49 439.06 L217.6 437.13 L217.72 435.22 L217.84 433.33 L217.96 431.46 L218.1 429.6 L218.23 427.75 L218.38 425.93 L218.52 424.12 L218.68 422.32 L218.84 420.54 L219 418.78 L219.17 417.03 L219.34 415.3 L219.52 413.58 L219.7 411.88 L219.89 410.2 L220.09 408.53 L220.28 406.88 L220.49 405.24 L220.7 403.62 L220.91 402.02 L221.13 400.43 L221.35 398.86 L221.58 397.31 L221.81 395.77 L222.05 394.25 L222.29 392.74 L222.54 391.25 L222.79 389.78 L223.05 388.33 L223.31 386.89 L223.57 385.48 L223.84 384.08 L224.12 382.69 L224.39 381.33 L224.68 379.98 L224.97 378.65 L225.26 377.34 L225.55 376.04 L225.86 374.77 L226.16 373.51 L226.47 372.27 L226.78 371.05 L227.1 369.85 L227.42 368.67 L227.75 367.5 L228.08 366.36 L228.41 365.23 L228.75 364.13 L229.09 363.04 L229.44 361.98 L229.79 360.93 L230.14 359.9 L230.5 358.9 L230.86 357.91 L231.23 356.94 L231.59 355.99 L231.97 355.07 L232.34 354.16 L232.72 353.28 L233.11 352.41 L233.49 351.57 L233.88 350.74 L234.28 349.94 L234.68 349.16 L235.08 348.4 L235.48 347.66 L235.89 346.94 L236.3 346.24 L236.72 345.56 L237.14 344.91 L237.56 344.28 L237.98 343.67 L238.41 343.08 L238.85 342.51 L239.28 341.96 L239.72 341.44 L240.17 340.93 L240.61 340.45 L241.06 339.99 L241.52 339.56 L241.98 339.14 L242.44 338.75 L242.9 338.38 L243.37 338.03 L243.85 337.71 L244.33 337.4 L244.81 337.12 L245.3 336.86 L245.79 336.63 L246.3 336.41 L246.8 336.22 L247.32 336.05 L247.84 335.91 L248.37 335.78 L248.92 335.68 L249.48 335.6 L250.06 335.55 L250.68 335.51 L251.4 335.5 L252.12 335.51 L252.74 335.55 L253.32 335.6 L253.87 335.68 L254.41 335.78 L254.94 335.91 L255.46 336.05 L255.96 336.22 L256.46 336.41 L256.96 336.63 L257.44 336.86 L257.92 337.12 L258.4 337.4 L258.86 337.71 L259.33 338.03 L259.79 338.38 L260.24 338.75 L260.69 339.14 L261.13 339.56 L261.57 339.99 L262.01 340.45 L262.44 340.93 L262.87 341.44 L263.29 341.96 L263.71 342.51 L264.13 343.08 L264.54 343.67 L264.95 344.28 L265.36 344.91 L265.76 345.56 L266.15 346.24 L266.55 346.94 L266.94 347.66 L267.32 348.4 L267.7 349.16 L268.08 349.94 L268.45 350.74 L268.82 351.57 L269.19 352.41 L269.55 353.28 L269.91 354.16 L270.27 355.07 L270.62 355.99 L270.96 356.94 L271.31 357.91 L271.65 358.9 L271.98 359.9 L272.31 360.93 L272.64 361.98 L272.96 363.04 L273.28 364.13 L273.6 365.23 L273.91 366.36 L274.22 367.5 L274.52 368.67 L274.82 369.85 L275.11 371.05 L275.4 372.27 L275.69 373.51 L275.97 374.77 L276.25 376.04 L276.53 377.34 L276.79 378.65 L277.06 379.98 L277.32 381.33 L277.58 382.69 L277.83 384.08 L278.08 385.48 L278.32 386.89 L278.56 388.33 L278.8 389.78 L279.03 391.25 L279.25 392.74 L279.48 394.25 L279.69 395.77 L279.9 397.31 L280.11 398.86 L280.32 400.43 L280.52 402.02 L280.71 403.62 L280.9 405.24 L281.09 406.88 L281.27 408.53 L281.44 410.2 L281.61 411.88 L281.78 413.58 L281.94 415.3 L282.1 417.03 L282.25 418.78 L282.4 420.54 L282.54 422.32 L282.68 424.12 L282.82 425.93 L282.95 427.75 L283.07 429.6 L283.19 431.46 L283.3 433.33 L283.41 435.22 L283.52 437.13 L283.62 439.06 L283.71 441 L283.8 442.96 L283.89 444.94 L283.97 446.94 L284.05 448.95 L284.12 450.99 L284.18 453.05 L284.25 455.13 L284.3 457.23 L284.35 459.36 L284.4 461.52 L284.44 463.7 L284.48 465.92 L284.51 468.18 L284.54 470.49 L284.56 472.84 L284.58 475.27 L284.59 477.79 L284.6 480.46 L284.6 483.6" fill="none" stroke="#141414" stroke-width="1.0" stroke-linejoin="round" stroke-linecap="round"/>
<path d="M448.55 528.8 V312.5 H718.4 V528.3 H448.05" fill="none" stroke="#151515" stroke-width="1.15" stroke-linejoin="miter"/>
<line x1="447.15" y1="312.5" x2="448.55" y2="312.5" stroke="#151515" stroke-width="1.0"/>
<line x1="493.52" y1="529.6" x2="493.52" y2="522.9" stroke="#151515" stroke-width="1.05"/>
<line x1="538.5" y1="529.6" x2="538.5" y2="522.9" stroke="#151515" stroke-width="1.05"/>
<line x1="583.48" y1="529.6" x2="583.48" y2="522.9" stroke="#151515" stroke-width="1.05"/>
<line x1="628.45" y1="529.6" x2="628.45" y2="522.9" stroke="#151515" stroke-width="1.05"/>
<line x1="673.42" y1="529.6" x2="673.42" y2="522.9" stroke="#151515" stroke-width="1.05"/>
<line x1="447.35" y1="355.66" x2="453.95" y2="355.66" stroke="#151515" stroke-width="1.05"/>
<line x1="447.35" y1="398.82" x2="453.95" y2="398.82" stroke="#151515" stroke-width="1.05"/>
<line x1="447.35" y1="441.98" x2="453.95" y2="441.98" stroke="#151515" stroke-width="1.05"/>
<line x1="447.35" y1="485.14" x2="453.95" y2="485.14" stroke="#151515" stroke-width="1.05"/>
<text x="440.4" y="316.23" font-size="15.6" text-anchor="end" textLength="32.6" lengthAdjust="spacingAndGlyphs">0.216</text>
<text x="440.4" y="359.83" font-size="15.6" text-anchor="end" textLength="32.6" lengthAdjust="spacingAndGlyphs">0.212</text>
<text x="440.4" y="403.03" font-size="15.6" text-anchor="end" textLength="32.6" lengthAdjust="spacingAndGlyphs">0.208</text>
<text x="440.4" y="446.33" font-size="15.6" text-anchor="end" textLength="32.6" lengthAdjust="spacingAndGlyphs">0.204</text>
<text x="440.4" y="489.03" font-size="15.6" text-anchor="end" textLength="32.6" lengthAdjust="spacingAndGlyphs">0.200</text>
<text x="440.4" y="532.43" font-size="15.6" text-anchor="end" textLength="32.6" lengthAdjust="spacingAndGlyphs">0.196</text>
<text x="426.1" y="546.7" font-size="15.6" textLength="44.9" lengthAdjust="spacingAndGlyphs">0.000 0</text>
<text x="515.4" y="546.7" font-size="15.6" textLength="44.9" lengthAdjust="spacingAndGlyphs">0.000 8</text>
<text x="604.3" y="546.7" font-size="15.6" textLength="45" lengthAdjust="spacingAndGlyphs">0.001 6</text>
<text x="695.5" y="546.7" font-size="15.6" textLength="45" lengthAdjust="spacingAndGlyphs">0.002 4</text>
<text font-size="15.5" font-style="italic" text-anchor="middle" transform="translate(389 417.5) rotate(-90) scale(1.3 0.94)" y="5.2">h</text>
<text font-size="15.5" font-style="italic" text-anchor="middle" transform="translate(592.5 568.5) scale(1.32 1)">x</text>
<text x="542.4" y="584.8" font-size="15.6" textLength="100.6" lengthAdjust="spacingAndGlyphs">(d) <tspan font-style="italic">U</tspan><tspan font-size="9.8" dy="3.5">0.2</tspan><tspan dy="-3.5">=3.0</tspan><tspan font-style="italic">u</tspan><tspan font-size="9.8" dy="3.5">max</tspan></text>
<text x="453.7" y="502.1" font-size="15.6" textLength="132.3" lengthAdjust="spacingAndGlyphs">Wave number=1 m<tspan font-size="10" dy="-4.5" font-weight="bold">−</tspan><tspan font-size="10">1</tspan></text>
<text x="456.2" y="519.2" font-size="15.6" textLength="186.1" lengthAdjust="spacingAndGlyphs">Angular Frequency=18.84 s<tspan font-size="10" dy="-4.5" font-weight="bold">−</tspan><tspan font-size="10">1</tspan></text>
<path d="M449.9 484.6 L450.09 484.58 L450.29 484.53 L450.48 484.45 L450.68 484.33 L450.87 484.18 L451.07 484 L451.26 483.78 L451.45 483.53 L451.65 483.25 L451.84 482.94 L452.03 482.59 L452.22 482.21 L452.41 481.8 L452.6 481.35 L452.79 480.88 L452.98 480.37 L453.17 479.83 L453.36 479.26 L453.54 478.66 L453.73 478.03 L453.91 477.36 L454.1 476.67 L454.28 475.95 L454.46 475.19 L454.65 474.41 L454.83 473.6 L455.01 472.76 L455.19 471.89 L455.36 471 L455.54 470.08 L455.72 469.13 L455.89 468.15 L456.07 467.15 L456.24 466.12 L456.41 465.07 L456.59 463.99 L456.76 462.89 L456.93 461.76 L457.1 460.61 L457.26 459.44 L457.43 458.24 L457.6 457.03 L457.77 455.79 L457.93 454.53 L458.1 453.25 L458.26 451.95 L458.43 450.64 L458.59 449.3 L458.76 447.95 L458.92 446.58 L459.08 445.19 L459.25 443.78 L459.41 442.36 L459.58 440.93 L459.74 439.48 L459.9 438.02 L460.07 436.55 L460.23 435.06 L460.4 433.56 L460.56 432.05 L460.73 430.53 L460.89 429 L461.06 427.46 L461.23 425.92 L461.4 424.36 L461.57 422.8 L461.74 421.23 L461.91 419.66 L462.09 418.08 L462.26 416.5 L462.44 414.91 L462.62 413.33 L462.8 411.73 L462.98 410.14 L463.17 408.55 L463.35 406.96 L463.54 405.37 L463.73 403.77 L463.92 402.19 L464.12 400.6 L464.32 399.02 L464.52 397.44 L464.72 395.87 L464.92 394.3 L465.13 392.74 L465.34 391.18 L465.56 389.64 L465.77 388.1 L465.99 386.57 L466.22 385.05 L466.44 383.54 L466.67 382.04 L466.9 380.55 L467.14 379.08 L467.38 377.62 L467.62 376.17 L467.87 374.74 L468.12 373.32 L468.37 371.91 L468.63 370.53 L468.89 369.15 L469.15 367.8 L469.42 366.46 L469.69 365.15 L469.97 363.85 L470.25 362.57 L470.53 361.31 L470.82 360.07 L471.1 358.86 L471.4 357.66 L471.7 356.49 L472 355.34 L472.3 354.21 L472.61 353.11 L472.92 352.03 L473.24 350.98 L473.55 349.95 L473.88 348.95 L474.2 347.97 L474.53 347.02 L474.86 346.1 L475.2 345.21 L475.54 344.34 L475.88 343.5 L476.22 342.69 L476.57 341.91 L476.92 341.15 L477.27 340.43 L477.63 339.74 L477.98 339.07 L478.34 338.44 L478.71 337.84 L479.07 337.27 L479.44 336.73 L479.81 336.22 L480.18 335.75 L480.55 335.3 L480.92 334.89 L481.3 334.51 L481.68 334.16 L482.06 333.85 L482.44 333.57 L482.82 333.32 L483.2 333.1 L483.58 332.92 L483.96 332.77 L484.35 332.65 L484.73 332.57 L485.12 332.52 L485.5 332.5 L485.86 332.52 L486.23 332.57 L486.59 332.65 L486.95 332.76 L487.31 332.91 L487.67 333.09 L488.03 333.31 L488.39 333.55 L488.75 333.83 L489.11 334.14 L489.46 334.49 L489.82 334.86 L490.17 335.27 L490.52 335.71 L490.87 336.18 L491.22 336.69 L491.57 337.22 L491.91 337.78 L492.26 338.38 L492.6 339.01 L492.93 339.66 L493.27 340.35 L493.6 341.06 L493.93 341.81 L494.26 342.58 L494.59 343.38 L494.91 344.21 L495.23 345.07 L495.55 345.96 L495.86 346.87 L496.17 347.81 L496.48 348.78 L496.79 349.77 L497.09 350.79 L497.39 351.83 L497.68 352.9 L497.98 353.99 L498.27 355.1 L498.55 356.24 L498.83 357.4 L499.11 358.58 L499.39 359.78 L499.66 361.01 L499.93 362.25 L500.2 363.52 L500.46 364.8 L500.72 366.11 L500.98 367.43 L501.23 368.77 L501.48 370.12 L501.73 371.5 L501.97 372.89 L502.21 374.29 L502.45 375.71 L502.68 377.14 L502.91 378.59 L503.14 380.05 L503.37 381.52 L503.59 383 L503.81 384.5 L504.03 386 L504.24 387.51 L504.45 389.04 L504.66 390.57 L504.87 392.1 L505.07 393.65 L505.27 395.2 L505.47 396.76 L505.67 398.32 L505.87 399.88 L506.06 401.45 L506.25 403.03 L506.44 404.6 L506.63 406.17 L506.82 407.75 L507 409.33 L507.19 410.9 L507.37 412.47 L507.55 414.05 L507.73 415.62 L507.91 417.18 L508.09 418.74 L508.27 420.3 L508.44 421.85 L508.62 423.4 L508.8 424.93 L508.97 426.46 L509.15 427.99 L509.32 429.5 L509.49 431 L509.67 432.5 L509.84 433.98 L510.02 435.45 L510.19 436.91 L510.36 438.36 L510.54 439.79 L510.71 441.21 L510.89 442.61 L511.07 444 L511.24 445.38 L511.42 446.73 L511.6 448.07 L511.77 449.39 L511.95 450.7 L512.13 451.98 L512.31 453.25 L512.5 454.49 L512.68 455.72 L512.86 456.92 L513.05 458.1 L513.23 459.26 L513.42 460.4 L513.61 461.51 L513.8 462.6 L513.99 463.67 L514.18 464.71 L514.37 465.73 L514.57 466.72 L514.76 467.69 L514.96 468.63 L515.15 469.54 L515.35 470.43 L515.55 471.29 L515.75 472.12 L515.96 472.92 L516.16 473.69 L516.37 474.44 L516.57 475.15 L516.78 475.84 L516.99 476.49 L517.19 477.12 L517.4 477.72 L517.62 478.28 L517.83 478.81 L518.04 479.32 L518.25 479.79 L518.47 480.23 L518.68 480.64 L518.9 481.01 L519.11 481.36 L519.33 481.67 L519.55 481.95 L519.77 482.19 L519.98 482.41 L520.2 482.59 L520.42 482.74 L520.64 482.85 L520.86 482.93 L521.08 482.98 L521.3 483 L521.3 483 L521.49 482.98 L521.68 482.93 L521.87 482.85 L522.06 482.73 L522.26 482.59 L522.45 482.4 L522.64 482.19 L522.83 481.94 L523.02 481.66 L523.21 481.35 L523.39 481 L523.58 480.62 L523.77 480.22 L523.96 479.77 L524.14 479.3 L524.33 478.79 L524.51 478.26 L524.7 477.69 L524.88 477.09 L525.06 476.46 L525.25 475.8 L525.43 475.12 L525.61 474.4 L525.79 473.65 L525.97 472.87 L526.14 472.07 L526.32 471.23 L526.5 470.37 L526.67 469.48 L526.85 468.56 L527.02 467.62 L527.19 466.65 L527.36 465.65 L527.53 464.63 L527.7 463.58 L527.87 462.51 L528.04 461.41 L528.21 460.29 L528.37 459.15 L528.54 457.99 L528.71 456.8 L528.87 455.59 L529.03 454.36 L529.2 453.11 L529.36 451.84 L529.52 450.55 L529.68 449.24 L529.85 447.91 L530.01 446.56 L530.17 445.2 L530.33 443.82 L530.49 442.43 L530.65 441.01 L530.81 439.59 L530.97 438.15 L531.13 436.7 L531.3 435.23 L531.46 433.75 L531.62 432.26 L531.78 430.76 L531.95 429.25 L532.11 427.73 L532.27 426.2 L532.44 424.66 L532.61 423.12 L532.77 421.57 L532.94 420.01 L533.11 418.44 L533.28 416.88 L533.46 415.3 L533.63 413.73 L533.81 412.15 L533.98 410.57 L534.16 408.98 L534.34 407.4 L534.53 405.82 L534.71 404.23 L534.9 402.65 L535.09 401.07 L535.28 399.5 L535.47 397.92 L535.67 396.36 L535.87 394.79 L536.07 393.23 L536.28 391.68 L536.48 390.14 L536.69 388.6 L536.91 387.07 L537.12 385.55 L537.34 384.04 L537.56 382.54 L537.79 381.05 L538.02 379.57 L538.25 378.1 L538.48 376.65 L538.72 375.21 L538.97 373.79 L539.21 372.37 L539.46 370.98 L539.71 369.6 L539.97 368.24 L540.23 366.89 L540.49 365.56 L540.76 364.25 L541.03 362.96 L541.3 361.69 L541.58 360.44 L541.86 359.21 L542.15 358 L542.44 356.81 L542.73 355.65 L543.02 354.51 L543.32 353.39 L543.63 352.29 L543.93 351.22 L544.24 350.17 L544.56 349.15 L544.87 348.15 L545.19 347.18 L545.52 346.24 L545.84 345.32 L546.17 344.43 L546.5 343.57 L546.84 342.73 L547.18 341.93 L547.52 341.15 L547.86 340.4 L548.21 339.68 L548.56 339 L548.91 338.34 L549.26 337.71 L549.62 337.11 L549.98 336.54 L550.34 336.01 L550.7 335.5 L551.07 335.03 L551.43 334.58 L551.8 334.18 L552.17 333.8 L552.54 333.45 L552.91 333.14 L553.29 332.86 L553.66 332.61 L554.04 332.4 L554.41 332.21 L554.79 332.07 L555.17 331.95 L555.54 331.87 L555.92 331.82 L556.3 331.8 L556.65 331.82 L557.01 331.87 L557.36 331.95 L557.72 332.07 L558.07 332.22 L558.42 332.4 L558.78 332.62 L559.13 332.86 L559.48 333.15 L559.83 333.46 L560.17 333.81 L560.52 334.19 L560.87 334.6 L561.21 335.04 L561.55 335.52 L561.89 336.03 L562.23 336.57 L562.57 337.14 L562.9 337.74 L563.24 338.37 L563.57 339.03 L563.9 339.73 L564.22 340.45 L564.54 341.2 L564.87 341.98 L565.18 342.79 L565.5 343.63 L565.81 344.5 L566.12 345.39 L566.43 346.31 L566.73 347.26 L567.04 348.24 L567.33 349.24 L567.63 350.27 L567.92 351.32 L568.21 352.4 L568.5 353.5 L568.78 354.63 L569.06 355.77 L569.34 356.95 L569.61 358.14 L569.88 359.36 L570.15 360.59 L570.41 361.85 L570.67 363.13 L570.93 364.43 L571.18 365.74 L571.43 367.08 L571.68 368.43 L571.92 369.8 L572.16 371.19 L572.4 372.59 L572.64 374.01 L572.87 375.44 L573.1 376.89 L573.32 378.35 L573.55 379.82 L573.77 381.31 L573.98 382.81 L574.2 384.31 L574.41 385.83 L574.62 387.36 L574.83 388.9 L575.03 390.45 L575.23 392 L575.43 393.56 L575.63 395.13 L575.83 396.7 L576.02 398.27 L576.21 399.86 L576.4 401.44 L576.59 403.03 L576.78 404.62 L576.96 406.21 L577.14 407.8 L577.32 409.39 L577.5 410.98 L577.68 412.57 L577.86 414.16 L578.04 415.74 L578.21 417.33 L578.39 418.9 L578.56 420.47 L578.73 422.04 L578.9 423.6 L579.08 425.15 L579.25 426.7 L579.42 428.24 L579.59 429.77 L579.76 431.29 L579.93 432.79 L580.1 434.29 L580.27 435.78 L580.44 437.25 L580.61 438.71 L580.78 440.16 L580.95 441.59 L581.12 443.01 L581.29 444.41 L581.47 445.8 L581.64 447.17 L581.81 448.52 L581.99 449.86 L582.16 451.17 L582.34 452.47 L582.52 453.75 L582.69 455.01 L582.87 456.24 L583.05 457.46 L583.23 458.65 L583.41 459.83 L583.6 460.97 L583.78 462.1 L583.96 463.2 L584.15 464.28 L584.34 465.33 L584.53 466.36 L584.72 467.36 L584.91 468.34 L585.1 469.29 L585.29 470.21 L585.49 471.1 L585.68 471.97 L585.88 472.81 L586.08 473.62 L586.28 474.4 L586.48 475.15 L586.68 475.87 L586.88 476.57 L587.08 477.23 L587.29 477.86 L587.49 478.46 L587.7 479.03 L587.9 479.57 L588.11 480.08 L588.32 480.56 L588.53 481 L588.74 481.41 L588.95 481.79 L589.16 482.14 L589.38 482.45 L589.59 482.74 L589.8 482.98 L590.01 483.2 L590.23 483.38 L590.44 483.53 L590.66 483.65 L590.87 483.73 L591.09 483.78 L591.3 483.8 L591.3 483.8 L591.48 483.78 L591.67 483.73 L591.85 483.65 L592.03 483.54 L592.22 483.39 L592.4 483.21 L592.58 482.99 L592.77 482.74 L592.95 482.47 L593.13 482.15 L593.31 481.81 L593.49 481.43 L593.67 481.02 L593.85 480.58 L594.03 480.11 L594.21 479.61 L594.39 479.07 L594.56 478.51 L594.74 477.91 L594.91 477.29 L595.09 476.63 L595.26 475.94 L595.44 475.23 L595.61 474.48 L595.78 473.71 L595.95 472.9 L596.12 472.07 L596.29 471.21 L596.46 470.32 L596.62 469.41 L596.79 468.47 L596.96 467.5 L597.12 466.51 L597.28 465.49 L597.45 464.45 L597.61 463.38 L597.77 462.29 L597.93 461.17 L598.09 460.03 L598.25 458.87 L598.41 457.69 L598.57 456.48 L598.72 455.25 L598.88 454.01 L599.04 452.74 L599.19 451.45 L599.35 450.15 L599.5 448.82 L599.66 447.48 L599.81 446.12 L599.97 444.75 L600.12 443.36 L600.28 441.95 L600.43 440.53 L600.59 439.1 L600.74 437.65 L600.9 436.19 L601.05 434.71 L601.21 433.23 L601.36 431.73 L601.52 430.23 L601.68 428.71 L601.84 427.19 L601.99 425.66 L602.15 424.12 L602.31 422.57 L602.48 421.02 L602.64 419.46 L602.8 417.89 L602.97 416.33 L603.14 414.76 L603.31 413.18 L603.48 411.61 L603.65 410.03 L603.82 408.45 L604 406.87 L604.18 405.29 L604.35 403.72 L604.54 402.14 L604.72 400.57 L604.91 399.01 L605.1 397.44 L605.29 395.88 L605.48 394.33 L605.68 392.78 L605.88 391.24 L606.08 389.71 L606.28 388.19 L606.49 386.67 L606.7 385.17 L606.91 383.67 L607.13 382.19 L607.35 380.71 L607.57 379.25 L607.8 377.8 L608.03 376.37 L608.26 374.95 L608.49 373.54 L608.73 372.15 L608.98 370.78 L609.22 369.42 L609.47 368.08 L609.72 366.75 L609.98 365.45 L610.24 364.16 L610.5 362.89 L610.77 361.65 L611.04 360.42 L611.31 359.21 L611.59 358.03 L611.87 356.87 L612.16 355.73 L612.44 354.61 L612.73 353.52 L613.03 352.45 L613.32 351.41 L613.63 350.39 L613.93 349.4 L614.24 348.43 L614.55 347.49 L614.86 346.58 L615.18 345.69 L615.5 344.83 L615.82 344 L616.14 343.19 L616.47 342.42 L616.8 341.67 L617.13 340.96 L617.47 340.27 L617.81 339.61 L618.15 338.99 L618.49 338.39 L618.83 337.83 L619.18 337.29 L619.53 336.79 L619.88 336.32 L620.23 335.88 L620.58 335.47 L620.94 335.09 L621.29 334.75 L621.65 334.43 L622.01 334.16 L622.37 333.91 L622.73 333.69 L623.09 333.51 L623.45 333.36 L623.81 333.25 L624.17 333.17 L624.54 333.12 L624.9 333.1 L625.29 333.12 L625.68 333.17 L626.07 333.25 L626.46 333.37 L626.84 333.51 L627.23 333.7 L627.62 333.91 L628 334.16 L628.39 334.44 L628.77 334.75 L629.15 335.1 L629.53 335.48 L629.91 335.89 L630.29 336.33 L630.66 336.8 L631.04 337.31 L631.41 337.84 L631.78 338.41 L632.15 339.01 L632.51 339.64 L632.87 340.3 L633.23 340.99 L633.59 341.71 L633.95 342.46 L634.3 343.24 L634.65 344.04 L634.99 344.88 L635.34 345.74 L635.68 346.63 L636.01 347.55 L636.35 348.49 L636.68 349.46 L637.01 350.46 L637.33 351.48 L637.65 352.53 L637.97 353.6 L638.28 354.7 L638.59 355.82 L638.9 356.96 L639.2 358.13 L639.5 359.32 L639.8 360.53 L640.09 361.76 L640.38 363.01 L640.67 364.28 L640.95 365.58 L641.23 366.89 L641.5 368.21 L641.77 369.56 L642.04 370.93 L642.3 372.31 L642.57 373.7 L642.82 375.11 L643.08 376.54 L643.33 377.98 L643.58 379.43 L643.82 380.9 L644.06 382.38 L644.3 383.87 L644.54 385.37 L644.77 386.88 L645 388.41 L645.23 389.94 L645.45 391.48 L645.67 393.02 L645.89 394.57 L646.11 396.13 L646.32 397.7 L646.54 399.27 L646.75 400.84 L646.95 402.42 L647.16 404 L647.36 405.58 L647.57 407.17 L647.77 408.75 L647.97 410.33 L648.16 411.92 L648.36 413.5 L648.55 415.08 L648.75 416.66 L648.94 418.23 L649.13 419.8 L649.32 421.37 L649.51 422.93 L649.7 424.48 L649.89 426.02 L650.08 427.56 L650.26 429.09 L650.45 430.62 L650.64 432.13 L650.82 433.63 L651.01 435.12 L651.2 436.6 L651.38 438.07 L651.57 439.52 L651.76 440.96 L651.95 442.39 L652.13 443.8 L652.32 445.19 L652.51 446.57 L652.7 447.94 L652.89 449.29 L653.08 450.61 L653.27 451.92 L653.47 453.22 L653.66 454.49 L653.86 455.74 L654.05 456.97 L654.25 458.18 L654.45 459.37 L654.65 460.54 L654.85 461.68 L655.05 462.8 L655.25 463.9 L655.46 464.97 L655.66 466.02 L655.87 467.04 L656.08 468.04 L656.29 469.01 L656.5 469.95 L656.71 470.87 L656.92 471.76 L657.14 472.62 L657.35 473.46 L657.57 474.26 L657.79 475.04 L658.01 475.79 L658.23 476.51 L658.45 477.2 L658.67 477.86 L658.9 478.49 L659.12 479.09 L659.35 479.66 L659.57 480.19 L659.8 480.7 L660.03 481.17 L660.26 481.61 L660.49 482.02 L660.72 482.4 L660.96 482.75 L661.19 483.06 L661.42 483.34 L661.66 483.59 L661.89 483.8 L662.12 483.99 L662.36 484.13 L662.59 484.25 L662.83 484.33 L663.06 484.38 L663.3 484.4" fill="none" stroke="#141414" stroke-width="1.0" stroke-linejoin="round" stroke-linecap="round"/>
</svg></body></html>
